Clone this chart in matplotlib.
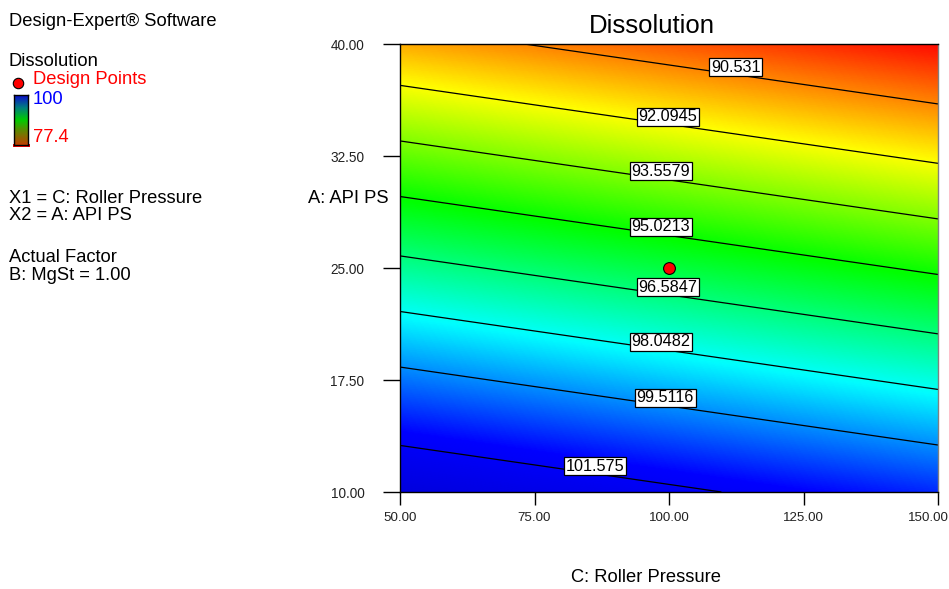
import numpy as np
import matplotlib
matplotlib.use("Agg")
import matplotlib.pyplot as plt
from matplotlib.colors import LinearSegmentedColormap, Normalize
from matplotlib.patches import Rectangle
from matplotlib.transforms import ScaledTranslation

plt.rcParams['font.family'] = ['Liberation Sans', 'DejaVu Sans']

# ---------------- data ----------------
title = "Dissolution"
x_label = "C: Roller Pressure"
y_label = "A: API PS"
x_range = [50.0, 150.0]
y_range = [10.0, 40.0]
x_ticks = [50.0, 75.0, 100.0, 125.0, 150.0]
y_ticks = [10.0, 17.5, 25.0, 32.5, 40.0]

# fitted linear response: Dissolution = b0 + bC*C + bA*A (B: MgSt = 1.00)
b0 = 107.76
bC = -0.02053
bA = -0.3932

contour_levels = [90.531, 92.0945, 93.5579, 95.0213, 96.5847, 98.0482, 99.5116, 101.575]
contour_labels = ["90.531", "92.0945", "93.5579", "95.0213", "96.5847", "98.0482", "99.5116", "101.575"]
label_x = [112.4, 99.8, 98.5, 98.5, 99.8, 98.5, 99.3, 86.2]   # C where each label sits

design_C = [100.0]
design_A = [25.0]

legend_high = "100"
legend_low = "77.4"

# ---------------- figure ----------------
W, H = 949, 589
fig = plt.figure(figsize=(W / 100, H / 100), dpi=100)

def px(x, y):
    return x / W, 1 - y / H

ax = fig.add_axes([400 / W, 1 - 492 / H, 538 / W, 448 / H])

C = np.linspace(x_range[0], x_range[1], 400)
A = np.linspace(y_range[0], y_range[1], 400)
CC, AA = np.meshgrid(C, A)
Z = b0 + bC * CC + bA * AA

zmin, zmax = Z.min(), Z.max()
step = 3.07
nodes = [0.0, step / (zmax - zmin), 2 * step / (zmax - zmin), 3 * step / (zmax - zmin),
         4 * step / (zmax - zmin), 1.0]
cols = [(1.0, 0.05, 0.0), (1.0, 1.0, 0.0), (0.0, 1.0, 0.0), (0.0, 1.0, 1.0),
        (0.0, 0.0, 1.0), (0.0, 0.0, 0.87)]
cmap = LinearSegmentedColormap.from_list("de", list(zip(nodes, cols)))
ax.pcolormesh(CC, AA, Z, cmap=cmap, norm=Normalize(zmin, zmax), shading='gouraud',
              rasterized=True)

ax.contour(CC, AA, Z, levels=contour_levels, colors='black', linewidths=0.9)

for lev, txt, lx in zip(contour_levels, contour_labels, label_x):
    ly = (lev - b0 - bC * lx) / bA
    ax.text(lx, ly, txt, ha='center', va='bottom', fontsize=11.7, color='black',
            bbox=dict(boxstyle='square,pad=0.1', fc='white', ec='black', lw=0.9),
            zorder=5)

ax.plot(design_C, design_A, 'o', color='red', mec='black', mew=0.8, ms=8.5, zorder=6,
        clip_on=False)

ax.set_xlim(x_range)
ax.set_ylim(y_range)
ax.set_xticks(x_ticks)
ax.set_yticks(y_ticks)
ax.set_xticklabels([f"{v:.2f}" for v in x_ticks])
ax.set_yticklabels([f"{v:.2f}" for v in y_ticks])
ax.tick_params(axis='y', length=12.2, width=1, pad=13.5, labelsize=9.8, labelcolor='#222222')
ax.tick_params(axis='x', length=9.4, width=1, pad=5, labelsize=9.6, labelcolor='#222222')
# last x tick label pulled left so it fits inside the figure, as in the reference
last = ax.get_xticklabels()[-1]
last.set_transform(last.get_transform() + ScaledTranslation(-10 / 100, 0, fig.dpi_scale_trans))
for s in ['left', 'bottom', 'top']:
    ax.spines[s].set_linewidth(1.0)
    ax.spines[s].set_color('black')
ax.spines['right'].set_color('#808080')
ax.spines['right'].set_linewidth(1.0)

fig.text(*px(652, 26), title, ha='center', va='center', fontsize=18.5)
fig.text(*px(646, 578), x_label, ha='center', va='center', fontsize=13.2)
fig.text(*px(389, 198), y_label, ha='right', va='center', fontsize=13.2)

# ---------------- left info panel ----------------
fs = 13.2
fig.text(*px(9, 21), "Design-Expert\u00ae Software", ha='left', va='center', fontsize=fs)
fig.text(*px(9, 62), "Dissolution", ha='left', va='center', fontsize=fs)
fig.text(*px(33, 80), "Design Points", ha='left', va='center', fontsize=fs, color='red')
fig.text(*px(33, 100), legend_high, ha='left', va='center', fontsize=fs, color='blue')
fig.text(*px(33, 138), legend_low, ha='left', va='center', fontsize=fs, color='red')
fig.text(*px(9, 198), "X1 = C: Roller Pressure", ha='left', va='center', fontsize=fs)
fig.text(*px(9, 216), "X2 = A: API PS", ha='left', va='center', fontsize=fs)
fig.text(*px(9, 257), "Actual Factor", ha='left', va='center', fontsize=fs)
fig.text(*px(9, 276), "B: MgSt = 1.00", ha='left', va='center', fontsize=fs)

# design point marker in legend
lax = fig.add_axes([0, 0, 1, 1], facecolor='none')
lax.set_xlim(0, W)
lax.set_ylim(H, 0)
lax.axis('off')
lax.plot([18], [83], 'o', color='red', mec='black', mew=0.8, ms=7.5)

# legend color bar
cbax = fig.add_axes([14 / W, 1 - 145 / H, 14 / W, 50 / H])
grad = np.linspace(1, 0, 100).reshape(-1, 1)
lcmap = LinearSegmentedColormap.from_list(
    "leg", [(0.0, (0.75, 0.25, 0.0)), (0.3, (0.35, 0.55, 0.0)), (0.5, (0.0, 0.8, 0.0)),
            (0.75, (0.0, 0.5, 0.5)), (1.0, (0.05, 0.05, 0.8))])
cbax.imshow(grad, aspect='auto', cmap=lcmap, extent=[0, 1, 0, 1])
cbax.set_xticks([])
cbax.set_yticks([])
for s in cbax.spines.values():
    s.set_linewidth(1.0)
    s.set_color('black')
lax.add_patch(Rectangle((13, 144), 17, 3, color='red', lw=0))

fig.savefig("out.png", dpi=100)
